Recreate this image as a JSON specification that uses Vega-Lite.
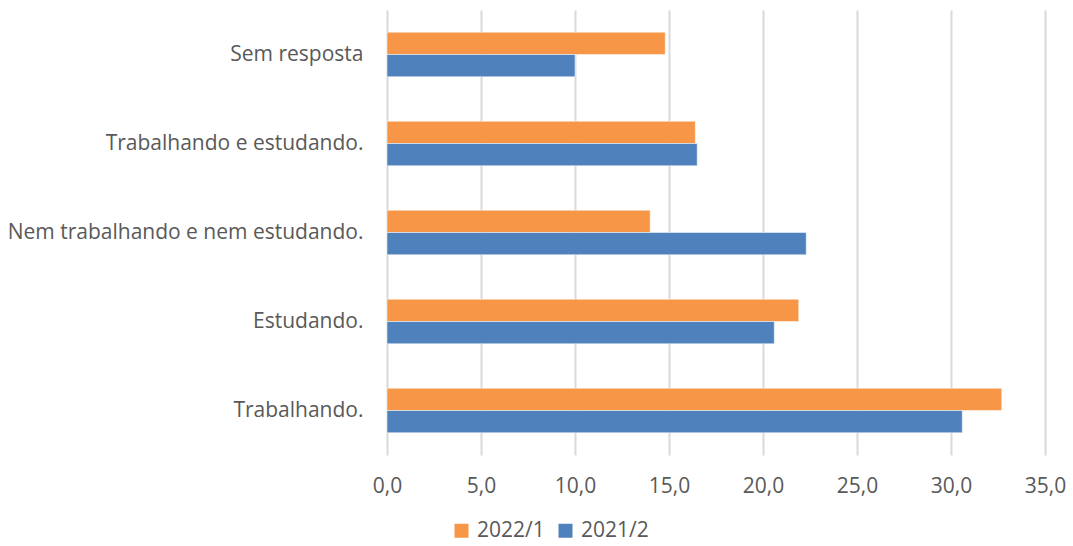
{
  "$schema": "https://vega.github.io/schema/vega-lite/v6.json",
  "width": 658,
  "height": 445,
  "autosize": {"type": "none"},
  "padding": {"left": 387, "top": 10, "right": 28, "bottom": 91},
  "background": "white",
  "data": {
    "values": [
      {"categoria": "Sem resposta", "periodo": "2022/1", "valor": 14.8},
      {"categoria": "Sem resposta", "periodo": "2021/2", "valor": 10.0},
      {"categoria": "Trabalhando e estudando.", "periodo": "2022/1", "valor": 16.4},
      {"categoria": "Trabalhando e estudando.", "periodo": "2021/2", "valor": 16.5},
      {"categoria": "Nem trabalhando e nem estudando.", "periodo": "2022/1", "valor": 14.0},
      {"categoria": "Nem trabalhando e nem estudando.", "periodo": "2021/2", "valor": 22.3},
      {"categoria": "Estudando.", "periodo": "2022/1", "valor": 21.9},
      {"categoria": "Estudando.", "periodo": "2021/2", "valor": 20.6},
      {"categoria": "Trabalhando.", "periodo": "2022/1", "valor": 32.7},
      {"categoria": "Trabalhando.", "periodo": "2021/2", "valor": 30.6}
    ]
  },
  "mark": {"type": "bar", "stroke": "white", "strokeWidth": 0.5},
  "encoding": {
    "y": {
      "field": "categoria",
      "type": "nominal",
      "sort": ["Sem resposta", "Trabalhando e estudando.", "Nem trabalhando e nem estudando.", "Estudando.", "Trabalhando."],
      "scale": {"paddingInner": 0.5, "paddingOuter": 0.25},
      "axis": {
        "title": null,
        "domain": false,
        "ticks": false,
        "labelFont": "Open Sans",
        "labelFontSize": 21,
        "labelColor": "#595959",
        "labelPadding": 24,
        "labelLimit": 400
      }
    },
    "yOffset": {
      "field": "periodo",
      "type": "nominal",
      "sort": ["2022/1", "2021/2"]
    },
    "x": {
      "field": "valor",
      "type": "quantitative",
      "scale": {"domain": [0, 35], "nice": false},
      "axis": {
        "title": null,
        "values": [0, 5, 10, 15, 20, 25, 30, 35],
        "labelExpr": "replace(format(datum.value, '.1f'), '.', ',')",
        "labelFlush": false,
        "domain": false,
        "ticks": false,
        "tickSize": 0,
        "grid": true,
        "gridColor": "#d9d9d9",
        "gridWidth": 2,
        "labelFont": "Open Sans",
        "labelFontSize": 21,
        "labelColor": "#595959",
        "labelPadding": 20
      }
    },
    "color": {
      "field": "periodo",
      "type": "nominal",
      "scale": {"domain": ["2022/1", "2021/2"], "range": ["#F79646", "#4F81BD"]},
      "legend": {
        "title": null,
        "orient": "none",
        "legendX": 64,
        "legendY": 510,
        "direction": "horizontal",
        "symbolType": "square",
        "symbolSize": 196,
        "symbolStrokeWidth": 0,
        "labelFont": "Open Sans",
        "labelFontSize": 21,
        "labelColor": "#595959",
        "labelOffset": 5,
        "columnPadding": 10
      }
    }
  },
  "config": {"view": {"stroke": null}}
}
